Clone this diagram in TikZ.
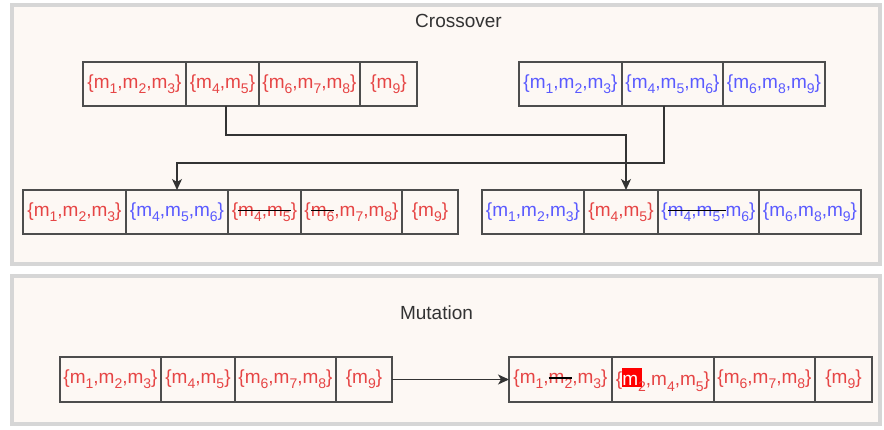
\documentclass[tikz,border=0pt]{standalone}
\usepackage{fontspec}
\setmainfont{Liberation Sans}
\usetikzlibrary{arrows.meta}
\definecolor{tred}{HTML}{E64545}
\definecolor{tblue}{HTML}{5A5AFF}
\definecolor{panelfill}{HTML}{FDF8F4}
\definecolor{panelline}{HTML}{D6D6D6}
\definecolor{cellline}{HTML}{4D4D4D}
\definecolor{arrline}{HTML}{333333}
\definecolor{hired}{HTML}{FF0000}
\newsavebox\strkbox
\newcommand\sbs[1]{\raisebox{-0.28em}{\fontsize{14}{14}\selectfont #1}}
\newcommand\strk[1]{\sbox\strkbox{#1}\rlap{\usebox\strkbox}{\color{black}\rule[0.27em]{\wd\strkbox}{1.1pt}}}
\newcommand\hilite[2]{\rlap{\textcolor{hired}{\rule[-0.06em]{1.05em}{1.0em}}}\textcolor{white}{#1}#2}
\tikzset{
  panel/.style={draw=panelline, line width=4pt, fill=panelfill},
  cell/.style={draw=cellline, line width=1.5pt, minimum height=44pt, inner sep=0pt, outer sep=0pt,
    font=\fontsize{19}{22}\selectfont, text=tred},
  bcell/.style={cell, text=tblue},
  ttl/.style={font=\fontsize{19}{22}\selectfont, text=arrline},
  arr/.style={draw=arrline, line width=1.3pt, -{Stealth[length=11pt,width=10pt,inset=3pt]}}
}
\begin{document}
\begin{tikzpicture}[x=1pt,y=-1pt]
\useasboundingbox (0,0) rectangle (884,430);
\fill[white] (0,0) rectangle (884,430);
\draw[panel] (12,5) rectangle (880,264);
\draw[panel] (12,276) rectangle (880,424);
\node[ttl] (t1) at (458.5,21) {Crossover};
\node[ttl] (t2) at (436.5,313) {Mutation};
% parent 1
\node[cell, minimum width=103pt] (a1) at (134.5,84) {\{m\sbs1,m\sbs2,m\sbs3\}};
\node[cell, minimum width=73pt] (a2) at (222.5,84) {\{m\sbs4,m\sbs5\}};
\node[cell, minimum width=101pt] (a3) at (309.5,84) {\{m\sbs6,m\sbs7,m\sbs8\}};
\node[cell, minimum width=57pt] (a4) at (388.5,84) {\{m\sbs9\}};
% parent 2
\node[bcell, minimum width=103pt] (b1) at (570.5,84) {\{m\sbs1,m\sbs2,m\sbs3\}};
\node[bcell, minimum width=101pt] (b2) at (672.5,84) {\{m\sbs4,m\sbs5,m\sbs6\}};
\node[bcell, minimum width=102pt] (b3) at (774,84) {\{m\sbs6,m\sbs8,m\sbs9\}};
% child 1
\node[cell, minimum width=103pt] (c1) at (74.5,212) {\{m\sbs1,m\sbs2,m\sbs3\}};
\node[bcell, minimum width=102pt] (c2) at (177,212) {\{m\sbs4,m\sbs5,m\sbs6\}};
\node[cell, minimum width=73pt] (c3) at (264.5,212) {\{\strk{m\sbs4,m\sbs5}\}};
\node[cell, minimum width=101pt] (c4) at (351.5,212) {\{\strk{m\sbs6},m\sbs7,m\sbs8\}};
\node[cell, minimum width=56pt] (c5) at (430,212) {\{m\sbs9\}};
% child 2
\node[bcell, minimum width=102pt] (d1) at (533,212) {\{m\sbs1,m\sbs2,m\sbs3\}};
\node[cell, minimum width=74pt] (d2) at (621,212) {\{m\sbs4,m\sbs5\}};
\node[bcell, minimum width=101pt] (d3) at (708.5,212) {\{\strk{m\sbs4,m\sbs5,}m\sbs6\}};
\node[bcell, minimum width=102pt] (d4) at (810,212) {\{m\sbs6,m\sbs8,m\sbs9\}};
% mutation before
\node[cell, minimum width=101pt, minimum height=45pt] (e1) at (110.5,379.5) {\{m\sbs1,m\sbs2,m\sbs3\}};
\node[cell, minimum width=74pt, minimum height=45pt] (e2) at (198,379.5) {\{m\sbs4,m\sbs5\}};
\node[cell, minimum width=101pt, minimum height=45pt] (e3) at (285.5,379.5) {\{m\sbs6,m\sbs7,m\sbs8\}};
\node[cell, minimum width=56pt, minimum height=45pt] (e4) at (364,379.5) {\{m\sbs9\}};
% mutation after
\node[cell, minimum width=103pt, minimum height=45pt] (f1) at (560.5,379.5) {\{m\sbs1,\strk{m\sbs2},m\sbs3\}};
\node[cell, minimum width=102pt, minimum height=45pt] (f2) at (663,379.5) {\{\hilite{m}{\sbs2},m\sbs4,m\sbs5\}};
\node[cell, minimum width=101pt, minimum height=45pt] (f3) at (764.5,379.5) {\{m\sbs6,m\sbs7,m\sbs8\}};
\node[cell, minimum width=57pt, minimum height=45pt] (f4) at (843.5,379.5) {\{m\sbs9\}};
% connectors
\draw[arr] ([xshift=3.5pt]a2.south) -- ++(0,29) -| ([xshift=5pt]d2.north);
\draw[arr] ([xshift=-8.5pt]b2.south) -- ++(0,57) -| (c2.north);
\draw[arr] (e4.east) -- (f1.west);
\end{tikzpicture}
\end{document}
